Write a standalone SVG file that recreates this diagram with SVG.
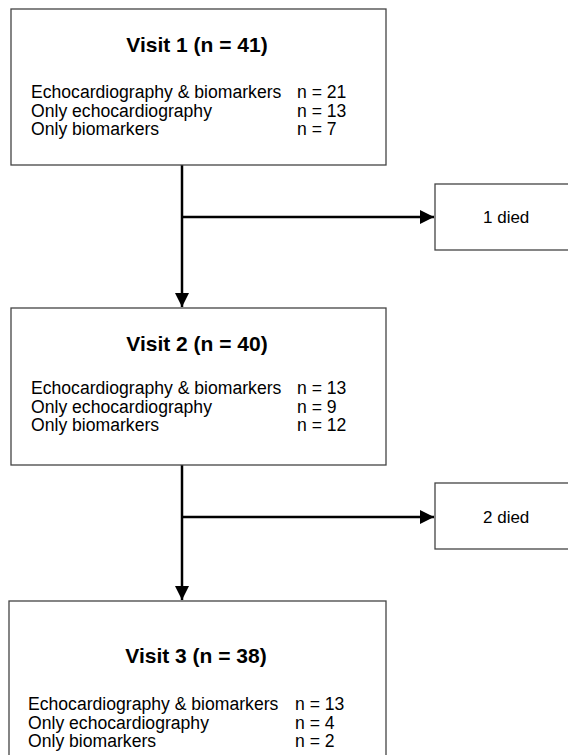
<svg xmlns="http://www.w3.org/2000/svg" width="568" height="755" viewBox="0 0 568 755">
<defs>
<style>
.box{fill:#fff;stroke:#444;stroke-width:1.3}
.title{font-family:"Liberation Sans",Arial,sans-serif;font-size:21px;font-weight:bold;fill:#000;text-anchor:middle}
.t{font-family:"Liberation Sans",Arial,sans-serif;font-size:17.6px;fill:#000}
.d{font-family:"Liberation Sans",Arial,sans-serif;font-size:17px;fill:#000}
.conn{stroke:#000;stroke-width:2.5;fill:none}
</style>
<marker id="ah" viewBox="0 0 10 10" refX="10" refY="5" markerWidth="5.6" markerHeight="5.6" orient="auto" markerUnits="strokeWidth">
<path d="M0,0 L10,5 L0,10 Z" fill="#000"/>
</marker>
</defs>
<rect width="568" height="755" fill="#fff"/>
<g id="connectors">
<line class="conn" x1="182" y1="165" x2="182" y2="307" marker-end="url(#ah)"/>
<line class="conn" x1="182" y1="217" x2="434" y2="217" marker-end="url(#ah)"/>
<line class="conn" x1="182" y1="465" x2="182" y2="600" marker-end="url(#ah)"/>
<line class="conn" x1="182" y1="517" x2="434" y2="517" marker-end="url(#ah)"/>
</g>
<g id="visit1">
<rect class="box" x="11" y="9" width="375" height="156"/>
<text class="title" x="197" y="52">Visit 1 (n = 41)</text>
<text class="t" x="31" y="98">Echocardiography &amp; biomarkers</text>
<text class="t" x="297" y="98">n = 21</text>
<text class="t" x="31" y="116.5">Only echocardiography</text>
<text class="t" x="297" y="116.5">n = 13</text>
<text class="t" x="31" y="135">Only biomarkers</text>
<text class="t" x="297" y="135">n = 7</text>
</g>
<g id="died1">
<rect class="box" x="435" y="184" width="145" height="66"/>
<text class="d" x="483" y="223">1 died</text>
</g>
<g id="visit2">
<rect class="box" x="11" y="308" width="375" height="157"/>
<text class="title" x="197" y="351">Visit 2 (n = 40)</text>
<text class="t" x="31" y="394">Echocardiography &amp; biomarkers</text>
<text class="t" x="297" y="394">n = 13</text>
<text class="t" x="31" y="412.5">Only echocardiography</text>
<text class="t" x="297" y="412.5">n = 9</text>
<text class="t" x="31" y="431">Only biomarkers</text>
<text class="t" x="297" y="431">n = 12</text>
</g>
<g id="died2">
<rect class="box" x="435" y="483" width="145" height="66"/>
<text class="d" x="483" y="523">2 died</text>
</g>
<g id="visit3">
<rect class="box" x="9" y="601" width="377" height="170"/>
<text class="title" x="196" y="663">Visit 3 (n = 38)</text>
<text class="t" x="28" y="710">Echocardiography &amp; biomarkers</text>
<text class="t" x="295" y="710">n = 13</text>
<text class="t" x="28" y="728.5">Only echocardiography</text>
<text class="t" x="295" y="728.5">n = 4</text>
<text class="t" x="28" y="747">Only biomarkers</text>
<text class="t" x="295" y="747">n = 2</text>
</g>
</svg>
